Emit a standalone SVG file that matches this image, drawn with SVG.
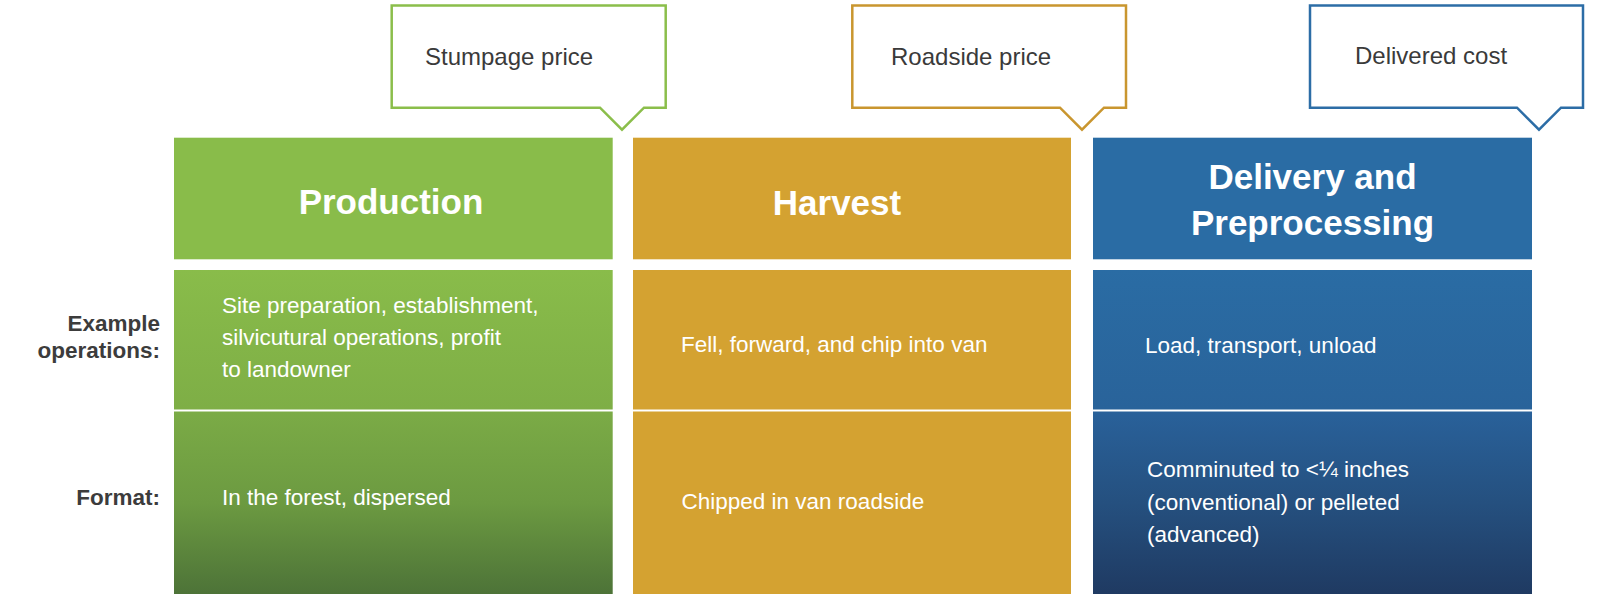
<svg xmlns="http://www.w3.org/2000/svg" width="1601" height="594" viewBox="0 0 1601 594">
<defs>
<linearGradient id="gMid" x1="0" y1="0" x2="0" y2="1"><stop offset="0" stop-color="#89BC4A"/><stop offset="1" stop-color="#7EAE46"/></linearGradient>
<linearGradient id="gBot" x1="0" y1="0" x2="0" y2="1"><stop offset="0" stop-color="#7BAB46"/><stop offset="0.5" stop-color="#6C9A41"/><stop offset="1" stop-color="#4D7338"/></linearGradient>
<linearGradient id="bMid" x1="0" y1="0" x2="0" y2="1"><stop offset="0" stop-color="#2A6CA4"/><stop offset="1" stop-color="#29639A"/></linearGradient>
<linearGradient id="bBot" x1="0" y1="0" x2="0" y2="1"><stop offset="0" stop-color="#29619A"/><stop offset="0.5" stop-color="#25507F"/><stop offset="1" stop-color="#1F3A62"/></linearGradient>
<style>
.callout{fill:#fff;stroke-width:2.5}
.ct{font-family:"Liberation Sans",Arial,sans-serif;font-size:24px;fill:#3a3a3a}
.hd{font-family:"Liberation Sans",Arial,sans-serif;font-size:35px;font-weight:bold;fill:#fff;text-anchor:middle}
.bt{font-family:"Liberation Sans",Arial,sans-serif;font-size:22.5px;fill:#fff}
.lb{font-family:"Liberation Sans",Arial,sans-serif;font-size:22.5px;font-weight:bold;fill:#3c3c3c;text-anchor:end}
</style>
</defs>
<rect width="1601" height="594" fill="#fff"/>

<g id="callout-stumpage">
<path class="callout" stroke="#8BBE4B" d="M391.7,5.5 H665.7 V107.7 H644 L622,129.7 L600,107.7 H391.7 Z"/>
<text class="ct" x="425" y="65">Stumpage price</text>
</g>
<g id="callout-roadside">
<path class="callout" stroke="#C9962F" d="M852.3,5.5 H1126 V107.7 H1104 L1082,129.7 L1060,107.7 H852.3 Z"/>
<text class="ct" x="891" y="65">Roadside price</text>
</g>
<g id="callout-delivered">
<path class="callout" stroke="#2C6DA6" d="M1310,5.5 H1583 V107.7 H1561 L1539,129.7 L1517,107.7 H1310 Z"/>
<text class="ct" x="1355" y="63.5">Delivered cost</text>
</g>

<g id="labels">
<text class="lb" x="160" y="331">Example</text>
<text class="lb" x="160" y="358">operations:</text>
<text class="lb" x="160" y="505">Format:</text>
</g>

<g id="production">
<rect x="174" y="137.7" width="438.7" height="121.6" fill="#89BC4A"/>
<text class="hd" x="391" y="214">Production</text>
</g>
<g id="production-ops">
<rect x="174" y="270" width="438.7" height="139.5" fill="url(#gMid)"/>
<text class="bt" x="222" y="313">Site preparation, establishment,</text>
<text class="bt" x="222" y="345">silvicutural operations, profit</text>
<text class="bt" x="222" y="377">to landowner</text>
</g>
<g id="production-format">
<rect x="174" y="411.5" width="438.7" height="182.5" fill="url(#gBot)"/>
<text class="bt" x="222" y="505">In the forest, dispersed</text>
</g>

<g id="harvest">
<rect x="633" y="137.7" width="438" height="121.6" fill="#D4A231"/>
<text class="hd" x="837" y="215">Harvest</text>
</g>
<g id="harvest-ops">
<rect x="633" y="270" width="438" height="139.5" fill="#D4A231"/>
<text class="bt" x="681" y="352">Fell, forward, and chip into van</text>
</g>
<g id="harvest-format">
<rect x="633" y="411.5" width="438" height="182.5" fill="#D4A231"/>
<text class="bt" x="681.5" y="509">Chipped in van roadside</text>
</g>

<g id="delivery">
<rect x="1093" y="137.7" width="439" height="121.6" fill="#2A6CA4"/>
<text class="hd" x="1312.5" y="189">Delivery and</text>
<text class="hd" x="1312.5" y="235">Preprocessing</text>
</g>
<g id="delivery-ops">
<rect x="1093" y="270" width="439" height="139.5" fill="url(#bMid)"/>
<text class="bt" x="1145" y="352.5">Load, transport, unload</text>
</g>
<g id="delivery-format">
<rect x="1093" y="411.5" width="439" height="182.5" fill="url(#bBot)"/>
<text class="bt" x="1147" y="477">Comminuted to &lt;¼ inches</text>
<text class="bt" x="1147" y="509.5">(conventional) or pelleted</text>
<text class="bt" x="1147" y="542">(advanced)</text>
</g>

<g id="connectors"/>
</svg>
